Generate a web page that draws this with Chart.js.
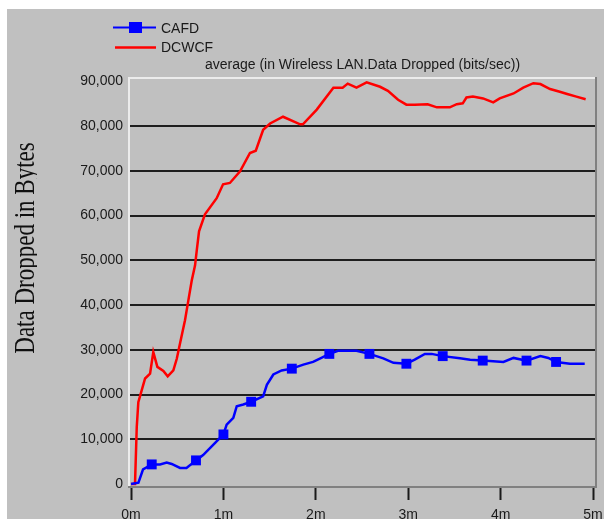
<!DOCTYPE html>
<html>
<head>
<meta charset="utf-8">
<script src="https://cdn.jsdelivr.net/npm/chart.js@4.4.1/dist/chart.umd.min.js"></script>
<style>
  html, body { margin: 0; padding: 0; background: #fff; }
  #wrap { width: 604px; height: 519px; }
</style>
</head>
<body>
<div id="wrap"><canvas id="chart" width="604" height="519"></canvas></div>
<script>
// data (time in minutes, value in bits/sec)
const chartTitle = 'average (in Wireless LAN.Data Dropped (bits/sec))';
const yAxisTitle = 'Data Dropped in Bytes';
const seriesNames = ['CAFD', 'DCWCF'];

const xTicks = [0, 1, 2, 3, 4, 5];
const yTicks = [0, 10000, 20000, 30000, 40000, 50000, 60000, 70000, 80000, 90000];
const xRange = [-0.022, 5.032];
const yRange = [-650, 90760];

const cafdTime = [0, 0.08, 0.13, 0.224, 0.314, 0.386, 0.44, 0.53, 0.60, 0.703, 0.78, 0.91,
  1.00, 1.035, 1.107, 1.144, 1.215, 1.30, 1.43, 1.47, 1.54, 1.63, 1.74, 1.865, 1.97, 2.06,
  2.146, 2.24, 2.44, 2.58, 2.73, 2.84, 2.98, 3.07, 3.18, 3.254, 3.373, 3.56, 3.67, 3.806,
  4.03, 4.14, 4.28, 4.43, 4.516, 4.60, 4.75, 4.91];
const cafdValue = [0, 300, 3300, 4400, 4400, 4800, 4500, 3600, 3600, 5300, 6500, 9200,
  11100, 13300, 14800, 17400, 17800, 18400, 19600, 22200, 24500, 25400, 25800, 26700, 27300, 28200,
  29100, 29800, 29800, 29100, 28100, 27100, 26900, 27800, 29100, 29100, 28600, 28100, 27800, 27600,
  27300, 28200, 27600, 28600, 28200, 27300, 26900, 26900];
// indices of the points that carry a square marker
const cafdMarkers = [3, 9, 12, 17, 22, 26, 29, 32, 36, 39, 42, 45];

const dcwcfTime = [0, 0.043, 0.062, 0.079, 0.116, 0.152, 0.206, 0.241, 0.285, 0.35, 0.397,
  0.458, 0.495, 0.53, 0.584, 0.62, 0.657, 0.693, 0.711, 0.736, 0.80, 0.927, 0.996, 1.07, 1.18,
  1.287, 1.35, 1.43, 1.505, 1.645, 1.83, 1.86, 2.01, 2.19, 2.29, 2.345, 2.44, 2.55, 2.695, 2.78,
  2.89, 2.98, 3.07, 3.21, 3.31, 3.45, 3.525, 3.59, 3.63, 3.70, 3.81, 3.92, 3.99, 4.14, 4.245,
  4.354, 4.43, 4.535, 4.64, 4.72, 4.82, 4.92];
const dcwcfValue = [0, 0, 12800, 18300, 21000, 23600, 24700, 29500, 26200, 25300, 24100,
  25400, 28000, 31400, 36600, 41000, 45500, 48900, 52200, 56500, 60300, 63900, 67000, 67300, 69900,
  74000, 74500, 79200, 80600, 82100, 80400, 80400, 83700, 88600, 88600, 89500, 88600, 89800, 88800, 87900,
  85900, 84800, 84800, 84900, 84200, 84200, 84900, 85100, 86400, 86600, 86200, 85300, 86200, 87300, 88600,
  89600, 89400, 88300, 87700, 87200, 86600, 86000];

const colors = {
  cafd: '#0000ff',
  dcwcf: '#ff0000',
  panel: '#c0c0c0',
  grid: '#1e1e1e',
  text: '#1a1a1a',
  frameLight: '#ececec',
  frameDark: '#808080'
};
const sansFont = "'Liberation Sans', Arial, sans-serif";
const serifFont = "'Liberation Serif', 'Times New Roman', serif";

function toPoints(xs, ys) {
  return xs.map(function (x, i) { return { x: x, y: ys[i] }; });
}

// gray panel with the white margin on top and left
const panelPlugin = {
  id: 'panel',
  beforeDraw(chart) {
    const ctx = chart.ctx;
    ctx.save();
    ctx.fillStyle = '#ffffff';
    ctx.fillRect(0, 0, chart.width, chart.height);
    ctx.fillStyle = colors.panel;
    ctx.fillRect(7, 9, chart.width - 7, chart.height - 9);
    ctx.restore();
  }
};

// sunken frame around the plot area
const framePlugin = {
  id: 'frame',
  beforeDatasetsDraw(chart) {
    const a = chart.chartArea;
    const ctx = chart.ctx;
    ctx.save();
    ctx.lineWidth = 2;
    ctx.strokeStyle = colors.frameLight;
    ctx.beginPath();
    ctx.moveTo(a.left, a.bottom);
    ctx.lineTo(a.left, a.top);
    ctx.lineTo(a.right + 1, a.top);
    ctx.stroke();
    ctx.strokeStyle = colors.frameDark;
    ctx.beginPath();
    ctx.moveTo(a.left - 1, a.bottom);
    ctx.lineTo(a.right, a.bottom);
    ctx.lineTo(a.right, a.top - 1);
    ctx.stroke();
    ctx.restore();
  }
};

// title, legend and the rotated serif axis title
const textPlugin = {
  id: 'texts',
  afterDraw(chart) {
    const a = chart.chartArea;
    const ctx = chart.ctx;
    ctx.save();
    ctx.fillStyle = colors.text;
    ctx.font = '14px ' + sansFont;
    ctx.textBaseline = 'middle';
    ctx.textAlign = 'center';
    ctx.fillText(chartTitle, (a.left + a.right) / 2, 65);

    // legend
    ctx.textAlign = 'left';
    ctx.lineWidth = 2;
    ctx.strokeStyle = colors.cafd;
    ctx.beginPath();
    ctx.moveTo(113, 27.5);
    ctx.lineTo(156, 27.5);
    ctx.stroke();
    ctx.fillStyle = colors.cafd;
    ctx.fillRect(129, 22, 13, 11);
    ctx.strokeStyle = colors.dcwcf;
    ctx.lineWidth = 2.5;
    ctx.beginPath();
    ctx.moveTo(115, 47.5);
    ctx.lineTo(156, 47.5);
    ctx.stroke();
    ctx.fillStyle = colors.text;
    ctx.fillText(seriesNames[0], 161, 29);
    ctx.fillText(seriesNames[1], 161, 48);

    // y axis title: tall glyphs, descenders clipped like the original
    ctx.beginPath();
    ctx.rect(0, 0, 37, chart.height);
    ctx.clip();
    ctx.translate(34, 248);
    ctx.rotate(-Math.PI / 2);
    ctx.scale(1, 1.3);
    ctx.font = '23px ' + serifFont;
    ctx.fillStyle = '#101010';
    ctx.textAlign = 'center';
    ctx.textBaseline = 'alphabetic';
    ctx.fillText(yAxisTitle, 0, 0);
    ctx.restore();
  }
};

const ctx = document.getElementById('chart').getContext('2d');
new Chart(ctx, {
  type: 'line',
  data: {
    datasets: [
      {
        label: seriesNames[0],
        data: toPoints(cafdTime, cafdValue),
        borderColor: colors.cafd,
        backgroundColor: colors.cafd,
        borderWidth: 2.5,
        tension: 0,
        pointStyle: 'rect',
        pointRadius: cafdValue.map(function (v, i) { return cafdMarkers.includes(i) ? 7 : 0; }),
        pointBorderWidth: 0,
        pointBackgroundColor: colors.cafd
      },
      {
        label: seriesNames[1],
        data: toPoints(dcwcfTime, dcwcfValue),
        borderColor: colors.dcwcf,
        borderWidth: 2.5,
        tension: 0,
        pointRadius: 0
      }
    ]
  },
  options: {
    responsive: false,
    devicePixelRatio: 1,
    animation: false,
    layout: { padding: { top: 78, right: 8, left: 0, bottom: 0 } },
    plugins: {
      legend: { display: false },
      title: { display: false },
      tooltip: { enabled: false }
    },
    scales: {
      x: {
        type: 'linear',
        min: xRange[0],
        max: xRange[1],
        afterBuildTicks: function (s) { s.ticks = xTicks.map(function (v) { return { value: v }; }); },
        afterFit: function (s) { s.height = 32; s.paddingLeft = 0; s.paddingRight = 0; },
        ticks: {
          autoSkip: false,
          maxRotation: 0,
          padding: 7,
          color: colors.text,
          font: { family: sansFont, size: 14 },
          callback: function (v) { return v + 'm'; }
        },
        grid: {
          drawOnChartArea: false,
          drawTicks: true,
          tickLength: 13,
          tickColor: colors.text,
          tickWidth: 2
        },
        border: { display: false }
      },
      y: {
        min: yRange[0],
        max: yRange[1],
        afterBuildTicks: function (s) { s.ticks = yTicks.map(function (v) { return { value: v }; }); },
        afterFit: function (s) { s.width = 129; },
        ticks: {
          padding: 6,
          color: colors.text,
          font: { family: sansFont, size: 14 },
          callback: function (v) { return v.toLocaleString('en-US'); }
        },
        grid: {
          drawTicks: false,
          lineWidth: 2,
          color: function (c) {
            const v = c.tick ? c.tick.value : null;
            return (v === yTicks[0] || v === yTicks[yTicks.length - 1]) ? 'rgba(0,0,0,0)' : colors.grid;
          }
        },
        border: { display: false }
      }
    }
  },
  plugins: [panelPlugin, framePlugin, textPlugin]
});
</script>
</body>
</html>
